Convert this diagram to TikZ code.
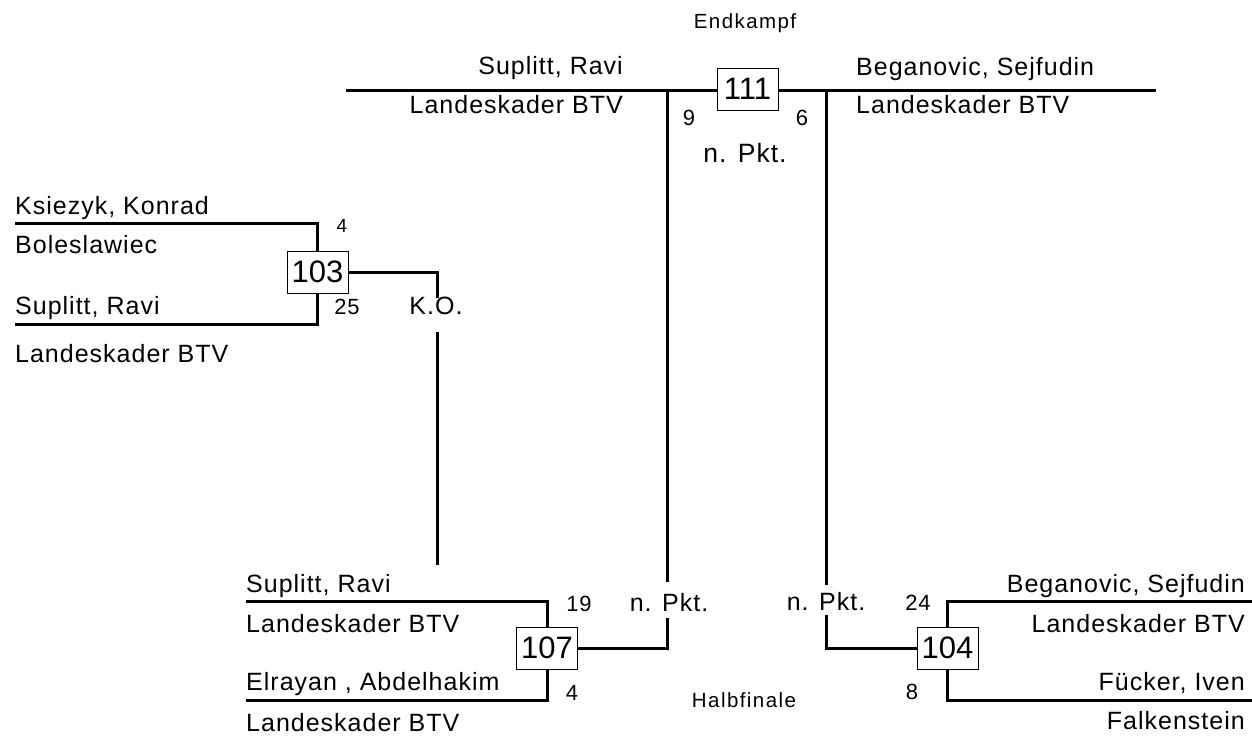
\documentclass[tikz,border=0pt]{standalone}
\usepackage{fontspec}
\setmainfont{Liberation Sans}
\newfontfamily\labfont{Liberation Sans}[LetterSpace=4]
\newfontfamily\wlabfont{Liberation Sans}[LetterSpace=7]
\begin{document}
\begin{tikzpicture}[x=1pt,y=-1pt,
  txt/.style={inner sep=0pt,font=\labfont\fontsize{25}{28}\selectfont},
  num/.style={inner sep=0pt,font=\labfont\fontsize{22}{24}\selectfont},
  title/.style={inner sep=0pt,font=\wlabfont\fontsize{20.5}{24}\selectfont},
  matchbox/.style={draw,line width=1pt,minimum width=61pt,minimum height=42pt,inner sep=0pt,font=\fontsize{31}{34}\selectfont,fill=white},
  wire/.style={line width=3pt}]
\useasboundingbox (0,0) rectangle (1252,737);

% boxes
\node[matchbox] (b111) at (747.5,89) {111};
\node[matchbox] (b103) at (317.5,272) {103};
\node[matchbox] (b107) at (547,648) {107};
\node[matchbox] (b104) at (947.5,648) {104};

% coordinates
\coordinate (tl) at (346,90);
\coordinate (tr) at (1156,90);
\coordinate (vl) at (667,90);
\coordinate (vr) at (826,90);
\coordinate (vlend) at (667,582);
\coordinate (vlstart) at (667,618);
\coordinate (vrend) at (826,585);
\coordinate (vrstart) at (826,615);
\coordinate (a1) at (15,223);
\coordinate (a2) at (15,324);
\coordinate (ko1) at (437,298);
\coordinate (ko2) at (437,332);
\coordinate (ko3) at (437,565);
\coordinate (c1) at (246,601);
\coordinate (c2) at (246,700);
\coordinate (d1) at (1252,601);
\coordinate (d2) at (1252,700);

% connectors
\draw[wire] (tl) -- (b111.west |- tl);
\draw[wire] (b111.east |- tr) -- (tr);
\draw[wire] (vl) -- (vlend);
\draw[wire] (vlstart) |- (b107.east);
\draw[wire] (vr) -- (vrend);
\draw[wire] (vrstart) |- (b104.west);
\draw[wire] (a1) -| (b103.north);
\draw[wire] (a2) -| (b103.south);
\draw[wire] (b103.east) -| (ko1);
\draw[wire] (ko2) -- (ko3);
\draw[wire] (c1) -| (b107.north);
\draw[wire] (c2) -| (b107.south);
\draw[wire] (d1) -| (b104.north);
\draw[wire] (d2) -| (b104.south);

% final
\node[title,anchor=base] (endk) at (745,28) {Endkampf};
\node[txt,anchor=base east] (fn1) at (623,74) {Suplitt, Ravi};
\node[txt,anchor=base east] (fc1) at (623,113) {Landeskader BTV};
\node[txt,anchor=base west] (fn2) at (856,75) {Beganovic, Sejfudin};
\node[txt,anchor=base west] (fc2) at (856,113) {Landeskader BTV};
\node[num,anchor=base] (s9) at (689,125) {9};
\node[num,anchor=base] (s6) at (802,125) {6};
\node[txt,anchor=base,font=\labfont\fontsize{26.5}{30}\selectfont] (res111) at (745,162) {n. Pkt.};

% 103
\node[txt,anchor=base west] (n1) at (15,214) {Ksiezyk, Konrad};
\node[txt,anchor=base west] (k1) at (15,253) {Boleslawiec};
\node[txt,anchor=base west] (n2) at (15,314) {Suplitt, Ravi};
\node[txt,anchor=base west] (k2) at (15,362) {Landeskader BTV};
\node[num,anchor=base,font=\labfont\fontsize{19}{22}\selectfont] (s4a) at (342,232) {4};
\node[num,anchor=base] (s25) at (347,314) {25};
\node[txt,anchor=base] (res103) at (436,314) {K.O.};

% 107
\node[txt,anchor=base west] (n3) at (246,592) {Suplitt, Ravi};
\node[txt,anchor=base west] (k3) at (246,632) {Landeskader BTV};
\node[txt,anchor=base west] (n4) at (246,690) {Elrayan , Abdelhakim};
\node[txt,anchor=base west] (k4) at (246,731) {Landeskader BTV};
\node[num,anchor=base] (s19) at (579,611) {19};
\node[num,anchor=base] (s4b) at (572,700) {4};
\node[txt,anchor=base] (res107) at (669,611) {n. Pkt.};

% 104
\node[txt,anchor=base east] (n5) at (1245,592) {Beganovic, Sejfudin};
\node[txt,anchor=base east] (k5) at (1245,632) {Landeskader BTV};
\node[txt,anchor=base east] (n6) at (1245,690) {Fücker, Iven};
\node[txt,anchor=base east] (k6) at (1245,729) {Falkenstein};
\node[num,anchor=base] (s24) at (918,610) {24};
\node[num,anchor=base] (s8) at (912,699) {8};
\node[txt,anchor=base] (res104) at (826,610) {n. Pkt.};

\node[title,anchor=base] (halb) at (744,707) {Halbfinale};
\end{tikzpicture}
\end{document}
